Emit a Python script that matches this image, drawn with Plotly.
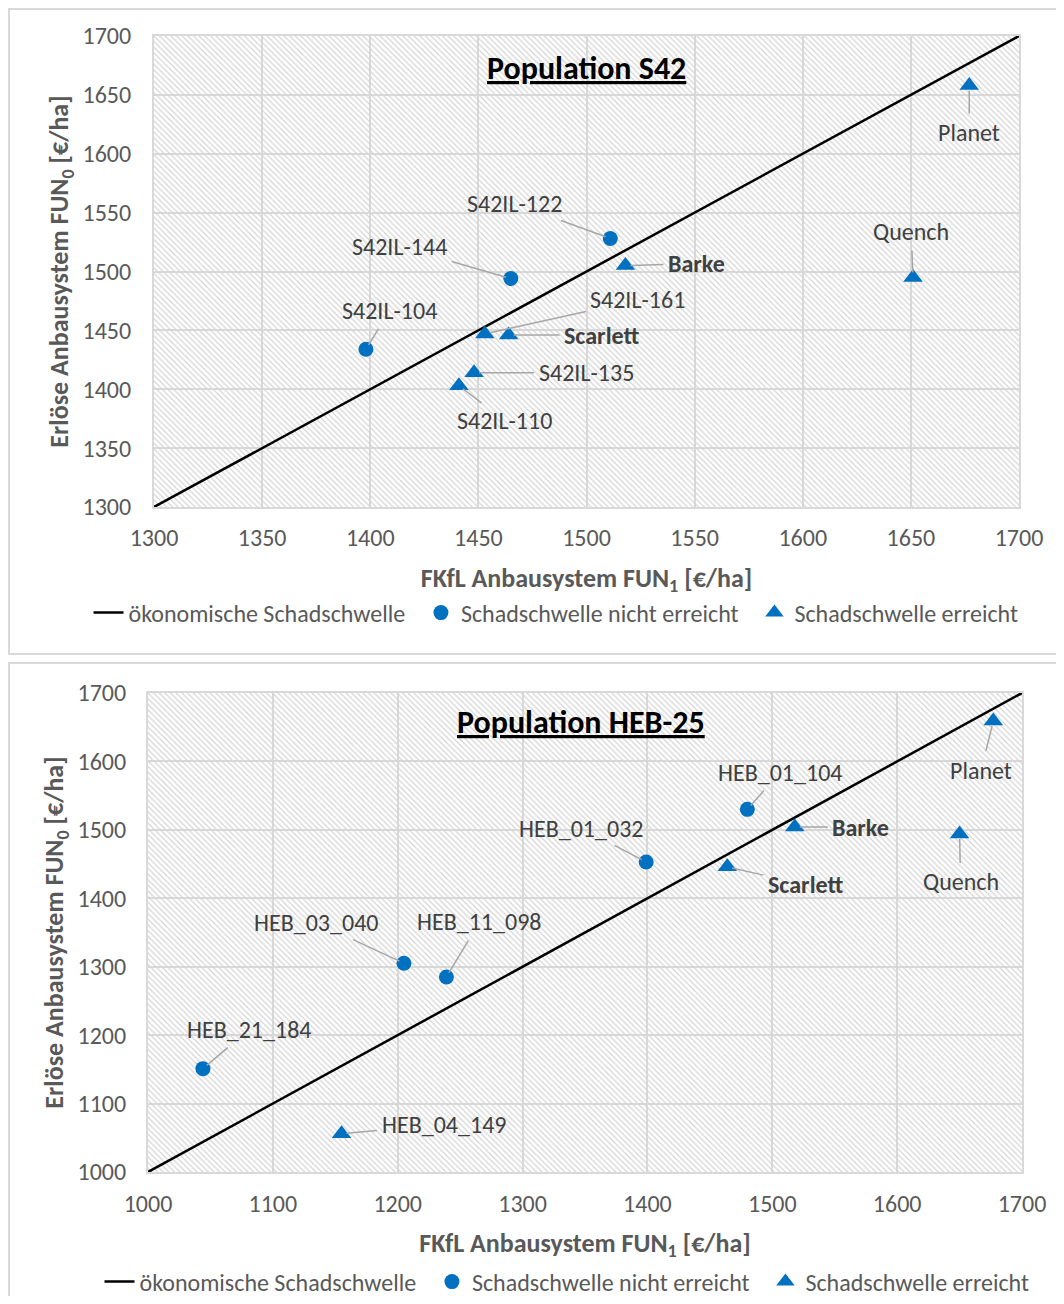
import plotly.graph_objects as go

# ---------------- data ----------------
# Population S42
s42_circle_names = ["S42IL-104", "S42IL-144", "S42IL-122"]
s42_circle_x = [1398, 1465, 1511]
s42_circle_y = [1434, 1494, 1528]
s42_tri_names = ["Barke", "S42IL-161", "Scarlett", "S42IL-135", "S42IL-110", "Planet", "Quench"]
s42_tri_x = [1518, 1453, 1464, 1448, 1441, 1677, 1651]
s42_tri_y = [1505, 1447, 1446, 1414, 1403, 1658, 1495]

# Population HEB-25
heb_circle_names = ["HEB_21_184", "HEB_03_040", "HEB_11_098", "HEB_01_032", "HEB_01_104"]
heb_circle_x = [1044, 1205, 1239, 1399, 1480]
heb_circle_y = [1151, 1305, 1285, 1453, 1530]
heb_tri_names = ["HEB_04_149", "Barke", "Scarlett", "Planet", "Quench"]
heb_tri_x = [1155, 1518, 1464, 1677, 1650]
heb_tri_y = [1056, 1504, 1446, 1659, 1494]

top_range = [1300, 1700]
top_ticks = [1300, 1350, 1400, 1450, 1500, 1550, 1600, 1650, 1700]
bottom_range = [1000, 1700]
bottom_ticks = [1000, 1100, 1200, 1300, 1400, 1500, 1600, 1700]

bold_names = ["Barke", "Scarlett"]
legend_names = ["ökonomische Schadschwelle", "Schadschwelle nicht erreicht", "Schadschwelle erreicht"]

# label offsets (pixels, text centre relative to point)
top_offsets = {
    "S42IL-104": (24, -39), "S42IL-144": (-111, -32), "S42IL-122": (-96, -35),
    "Barke": (71, -2), "S42IL-161": (153, -34), "Scarlett": (93, 0),
    "S42IL-135": (112, 0), "S42IL-110": (46, 35), "Planet": (0, 47), "Quench": (-2, -46),
}
bottom_offsets = {
    "HEB_21_184": (46, -39), "HEB_04_149": (102, -9), "HEB_03_040": (-88, -41),
    "HEB_11_098": (33, -55), "HEB_01_032": (-65, -34), "HEB_01_104": (33, -37),
    "Barke": (66, 0), "Scarlett": (78, 18), "Planet": (-12, 49), "Quench": (1, 48),
}

FONT = "Carlito, Lato, sans-serif"
BLUE = "#0070C0"
GRID = "#d9d9d9"
OFF = 8                      # page body margin
W, H = 1064 - 2 * OFF, 1304 - 2 * OFF
PAD = "\u00a0\u00a0"         # extra spacing between legend entries


def px(x):
    return (x - OFF) / W


def py(y):
    return 1 - (y - OFF) / H


fig = go.Figure()


def add_panel(xref, yref, rng, cn, cx, cy, tn, tx, ty, legend, offsets):
    # hatched background
    fig.add_trace(go.Scatter(
        x=[rng[0], rng[1], rng[1], rng[0], rng[0]],
        y=[rng[0], rng[0], rng[1], rng[1], rng[0]],
        mode="none", fill="toself", fillcolor="rgba(0,0,0,0)",
        fillpattern=dict(shape="\\", fgcolor="#d4d4d4", bgcolor="rgba(0,0,0,0)",
                         size=4, solidity=0.3),
        showlegend=False, hoverinfo="skip", xaxis=xref, yaxis=yref))
    # threshold line y = x
    fig.add_trace(go.Scatter(
        x=rng, y=rng, mode="lines", line=dict(color="black", width=2.5),
        name=legend_names[0] + PAD, legend=legend, xaxis=xref, yaxis=yref))
    fig.add_trace(go.Scatter(
        x=cx, y=cy, mode="markers", text=cn,
        marker=dict(symbol="circle", size=15, color=BLUE),
        name=legend_names[1] + PAD, legend=legend, xaxis=xref, yaxis=yref))
    fig.add_trace(go.Scatter(
        x=tx, y=ty, mode="markers", text=tn,
        marker=dict(symbol="triangle-up", size=17, color=BLUE),
        name=legend_names[2], legend=legend, xaxis=xref, yaxis=yref))
    for names, xs, ys in ((cn, cx, cy), (tn, tx, ty)):
        for n, x, y in zip(names, xs, ys):
            ax, ay = offsets[n]
            txt = f"<b>{n}</b>" if n in bold_names else n
            fig.add_annotation(
                x=x, y=y, xref=xref, yref=yref, text=txt, ax=ax, ay=ay,
                showarrow=True, arrowhead=0, arrowwidth=1.5, arrowcolor="#a6a6a6",
                standoff=5, startstandoff=3,
                font=dict(family=FONT, size=24, color="#404040"))


add_panel("x", "y", top_range, s42_circle_names, s42_circle_x, s42_circle_y,
          s42_tri_names, s42_tri_x, s42_tri_y, "legend", top_offsets)
add_panel("x2", "y2", bottom_range, heb_circle_names, heb_circle_x, heb_circle_y,
          heb_tri_names, heb_tri_x, heb_tri_y, "legend2", bottom_offsets)

axis_common = dict(
    showgrid=True, gridcolor=GRID, gridwidth=2, zeroline=False,
    showline=True, linecolor=GRID, linewidth=2, mirror=True,
    ticks="outside", tickcolor="rgba(0,0,0,0)", automargin=False,
    tickfont=dict(family=FONT, size=24, color="#595959"),
)
title_font = dict(family=FONT, size=26, color="#595959")
xtitle = "<b>FKfL Anbausystem FUN<sub>1</sub> [€/ha]</b>"
ytitle = "<b>Erlöse Anbausystem FUN<sub>0</sub> [€/ha]</b>"

fig.update_layout(
    template="none",
    width=W, height=H, margin=dict(l=0, r=0, t=0, b=0, autoexpand=False),
    paper_bgcolor="white", plot_bgcolor="white",
    font=dict(family=FONT, color="#595959"),
    xaxis=dict(axis_common, domain=[px(154), px(1019)], range=top_range, tickvals=top_ticks,
               ticklen=8, anchor="y",
               title=dict(text=xtitle, font=title_font, standoff=18)),
    yaxis=dict(axis_common, domain=[py(507), py(36)], range=top_range, tickvals=top_ticks,
               ticklen=16, anchor="x",
               title=dict(text=ytitle, font=title_font, standoff=6)),
    xaxis2=dict(axis_common, domain=[px(148), px(1022)], range=bottom_range, tickvals=bottom_ticks,
                ticklen=9, anchor="y2",
                title=dict(text=xtitle, font=title_font, standoff=17)),
    yaxis2=dict(axis_common, domain=[py(1172), py(693)], range=bottom_range, tickvals=bottom_ticks,
                ticklen=15, anchor="x2",
                title=dict(text=ytitle, font=title_font, standoff=6)),
    legend=dict(orientation="h", x=px(556), xanchor="center", y=py(613), yanchor="middle",
                font=dict(family=FONT, size=24, color="#595959"), bgcolor="rgba(0,0,0,0)"),
    legend2=dict(orientation="h", x=px(567), xanchor="center", y=py(1282), yanchor="middle",
                 font=dict(family=FONT, size=24, color="#595959"), bgcolor="rgba(0,0,0,0)"),
    showlegend=True,
)

# panel titles
fig.add_annotation(x=px(586), y=py(68), xref="paper", yref="paper", showarrow=False,
                   xanchor="center", yanchor="middle",
                   text="<b><u>Population S42</u></b>", font=dict(family=FONT, size=32, color="black"))
fig.add_annotation(x=px(581), y=py(722), xref="paper", yref="paper", showarrow=False,
                   xanchor="center", yanchor="middle",
                   text="<b><u>Population HEB-25</u></b>", font=dict(family=FONT, size=32, color="black"))

# panel borders
fig.add_shape(type="rect", xref="paper", yref="paper", x0=px(9), x1=1.02,
              y0=py(654), y1=py(9), line=dict(color=GRID, width=2), layer="below")
fig.add_shape(type="rect", xref="paper", yref="paper", x0=px(9), x1=1.02,
              y0=-0.02, y1=py(663), line=dict(color=GRID, width=2), layer="below")

fig.write_html("out.html")
